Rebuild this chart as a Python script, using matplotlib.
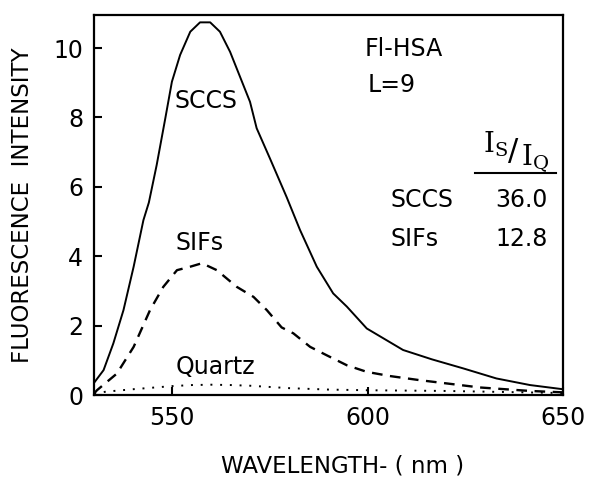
import matplotlib
matplotlib.use("Agg")
import matplotlib.pyplot as plt
from matplotlib.lines import Line2D

# SCCS (solid)
sccs_wl = [530.0, 532.4, 534.9, 537.5, 540.1, 542.6, 544.0, 546.0, 548.2, 549.9,
           552.0, 554.6, 557.1, 559.7, 562.2, 564.8, 568.2, 569.9, 571.6, 575.0,
           579.3, 582.7, 587.0, 591.2, 594.7, 599.8, 609.1, 616.5, 624.5, 633.0,
           641.6, 650.0]
sccs_int = [0.36, 0.72, 1.49, 2.45, 3.70, 5.04, 5.55, 6.63, 7.97, 9.03,
            9.80, 10.47, 10.74, 10.74, 10.47, 9.89, 8.93, 8.45, 7.69, 6.82,
            5.70, 4.76, 3.70, 2.93, 2.55, 1.92, 1.30, 1.03, 0.77, 0.48,
            0.29, 0.17]

# SIFs (dashed)
sifs_wl = [530.0, 530.7, 535.8, 540.1, 544.3, 547.7, 551.2, 554.6, 557.6, 561.4,
           566.5, 570.8, 574.2, 578.0, 581.0, 585.3, 589.5, 594.7, 599.8, 605.7,
           613.4, 623.7, 628.8, 641.6, 650.0]
sifs_int = [0.05, 0.14, 0.62, 1.39, 2.45, 3.12, 3.60, 3.70, 3.80, 3.60,
            3.12, 2.83, 2.45, 1.95, 1.78, 1.39, 1.15, 0.86, 0.67, 0.55,
            0.43, 0.29, 0.22, 0.12, 0.08]

# Quartz (dotted)
quartz_wl = [530, 533, 540, 550, 555, 560, 565, 570, 580, 590, 600, 610, 620, 630, 640, 650]
quartz_int = [0.04, 0.10, 0.17, 0.26, 0.29, 0.30, 0.29, 0.27, 0.20, 0.16, 0.14, 0.13, 0.12, 0.10, 0.08, 0.06]

x_ticks = [550, 600, 650]
y_ticks = [0, 2, 4, 6, 8, 10]

plt.rcParams['font.family'] = ['DejaVu Sans']
fig = plt.figure(figsize=(6.0, 4.86), dpi=100)
ax = fig.add_axes([0.157, 0.187, 0.781, 0.782])

ax.plot(sccs_wl, sccs_int, color='black', lw=1.4, ls='-')
ax.plot(sifs_wl, sifs_int, color='black', lw=1.7, ls=(0, (4.5, 3.2)))
ax.plot(quartz_wl, quartz_int, color='black', lw=1.4, ls=(0, (1, 4)))

ax.set_xlim(530, 650)
ax.set_ylim(0, 10.95)
ax.set_xticks(x_ticks)
ax.set_yticks(y_ticks)
ax.tick_params(direction='in', length=6, width=1.5, labelsize=17, pad=8)
for s in ax.spines.values():
    s.set_linewidth(1.6)

ax.set_xlabel('WAVELENGTH- ( nm )', fontsize=16.5, labelpad=16)
ax.xaxis.set_label_coords(0.53, -0.155)
ax.set_ylabel('FLUORESCENCE  INTENSITY', fontsize=16.5, labelpad=14)

fs = 17
ax.text(558.7, 8.47, 'SCCS', fontsize=fs, ha='center', va='center')
ax.text(557.1, 4.38, 'SIFs', fontsize=fs, ha='center', va='center')
ax.text(561.0, 0.80, 'Quartz', fontsize=fs, ha='center', va='center')
ax.text(609.3, 9.97, 'Fl-HSA', fontsize=fs, ha='center', va='center')
ax.text(600.1, 8.93, 'L=9', fontsize=fs, ha='left', va='center')

ax.text(632.8, 7.22, r'$\mathrm{I_S}$', fontsize=20, ha='center', va='center',
        math_fontfamily='dejavuserif')
ax.text(637.3, 7.02, '/', fontsize=22, ha='center', va='center')
ax.text(642.8, 6.82, r'$\mathrm{I_Q}$', fontsize=20, ha='center', va='center',
        math_fontfamily='dejavuserif')
ax.add_line(Line2D([0.812, 0.985], [0.584, 0.584], transform=ax.transAxes,
                   color='black', lw=1.5))

ax.text(613.9, 5.62, 'SCCS', fontsize=fs, ha='center', va='center')
ax.text(639.5, 5.62, '36.0', fontsize=fs, ha='center', va='center')
ax.text(612.1, 4.50, 'SIFs', fontsize=fs, ha='center', va='center')
ax.text(639.5, 4.50, '12.8', fontsize=fs, ha='center', va='center')

fig.savefig('out.png', dpi=100)
